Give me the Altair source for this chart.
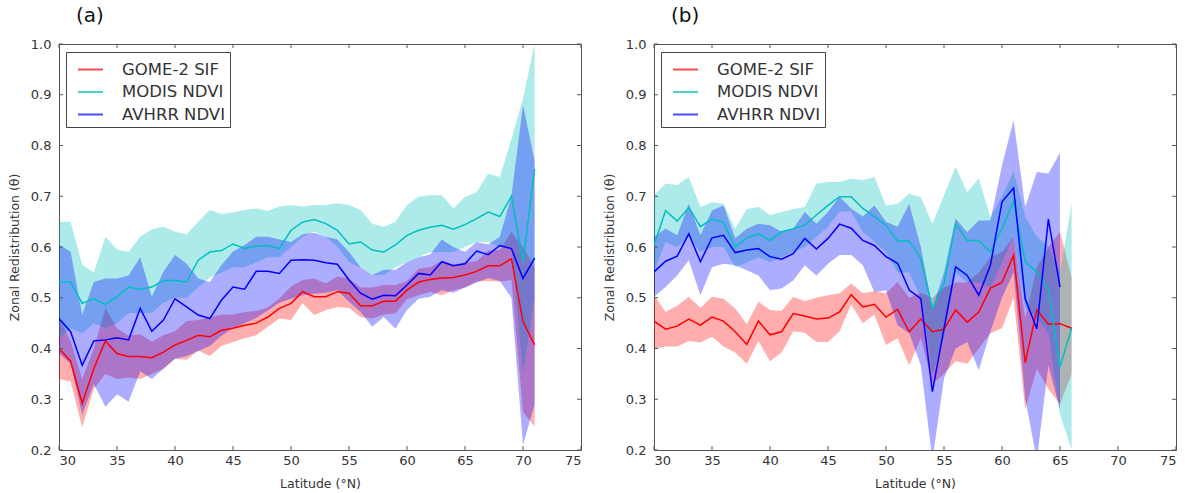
import altair as alt
import pandas as pd

SERIES = ["GOME-2 SIF", "MODIS NDVI", "AVHRR NDVI"]
COLORS = ["#ff0000", "#00bfbf", "#0000ff"]
X_TICKS = [30, 35, 40, 45, 50, 55, 60, 65, 70, 75]
Y_TICKS = [0.2, 0.3, 0.4, 0.5, 0.6, 0.7, 0.8, 0.9, 1.0]

# ---------------- panel (a): latitudes 30..71 ----------------
lat_a = list(range(30, 72))
sif_a = [0.400, 0.375, 0.292, 0.360, 0.415, 0.390, 0.384, 0.384, 0.382, 0.393,
         0.407, 0.416, 0.426, 0.423, 0.436, 0.440, 0.446, 0.450, 0.462, 0.479,
         0.489, 0.512, 0.502, 0.502, 0.512, 0.509, 0.484, 0.484, 0.493, 0.493,
         0.515, 0.531, 0.536, 0.539, 0.540, 0.545, 0.552, 0.563, 0.563, 0.577,
         0.453, 0.407]
sif_a_lo = [0.340, 0.335, 0.245, 0.320, 0.350, 0.340, 0.343, 0.340, 0.350, 0.360,
            0.380, 0.378, 0.396, 0.385, 0.405, 0.413, 0.420, 0.426, 0.443, 0.459,
            0.456, 0.489, 0.466, 0.476, 0.482, 0.480, 0.462, 0.459, 0.467, 0.469,
            0.497, 0.505, 0.512, 0.505, 0.515, 0.520, 0.532, 0.533, 0.532, 0.535,
            0.275, 0.247]
sif_a_hi = [0.460, 0.415, 0.340, 0.400, 0.480, 0.440, 0.425, 0.428, 0.414, 0.426,
            0.434, 0.454, 0.456, 0.461, 0.467, 0.467, 0.472, 0.474, 0.481, 0.499,
            0.522, 0.535, 0.538, 0.528, 0.542, 0.538, 0.520, 0.520, 0.525, 0.525,
            0.533, 0.557, 0.560, 0.573, 0.565, 0.570, 0.572, 0.593, 0.594, 0.630,
            0.600, 0.560]
modis_a = [0.531, 0.531, 0.489, 0.498, 0.487, 0.502, 0.521, 0.517, 0.521, 0.534,
           0.534, 0.531, 0.574, 0.590, 0.593, 0.606, 0.597, 0.602, 0.603, 0.597,
           0.633, 0.649, 0.654, 0.646, 0.633, 0.606, 0.610, 0.594, 0.590, 0.604,
           0.623, 0.633, 0.639, 0.643, 0.635, 0.644, 0.656, 0.669, 0.660, 0.700,
           0.571, 0.754]
modis_a_lo = [0.42, 0.44, 0.43, 0.45, 0.44, 0.45, 0.47, 0.47, 0.47, 0.49,
              0.50, 0.50, 0.52, 0.54, 0.55, 0.56, 0.56, 0.57, 0.58, 0.58,
              0.60, 0.62, 0.63, 0.62, 0.60, 0.57, 0.56, 0.545, 0.545, 0.56,
              0.57, 0.58, 0.59, 0.59, 0.59, 0.60, 0.61, 0.61, 0.60, 0.60,
              0.35, 0.50]
modis_a_hi = [0.650, 0.650, 0.565, 0.550, 0.620, 0.595, 0.590, 0.620, 0.635, 0.640,
              0.630, 0.625, 0.650, 0.673, 0.665, 0.668, 0.673, 0.676, 0.671, 0.680,
              0.683, 0.680, 0.683, 0.683, 0.686, 0.683, 0.673, 0.646, 0.640, 0.650,
              0.683, 0.699, 0.702, 0.702, 0.676, 0.699, 0.708, 0.745, 0.738, 0.813,
              0.892, 1.000]
avhrr_a = [0.459, 0.433, 0.367, 0.415, 0.417, 0.421, 0.417, 0.479, 0.434, 0.456,
           0.498, 0.482, 0.466, 0.459, 0.495, 0.521, 0.517, 0.552, 0.552, 0.548,
           0.574, 0.575, 0.574, 0.569, 0.566, 0.535, 0.509, 0.497, 0.505, 0.504,
           0.525, 0.548, 0.545, 0.571, 0.563, 0.567, 0.592, 0.585, 0.603, 0.597,
           0.538, 0.578]
avhrr_a_lo = [0.390, 0.370, 0.270, 0.330, 0.285, 0.310, 0.295, 0.355, 0.340, 0.360,
              0.380, 0.385, 0.395, 0.405, 0.425, 0.440, 0.450, 0.460, 0.475, 0.490,
              0.498, 0.505, 0.508, 0.510, 0.515, 0.492, 0.472, 0.443, 0.462, 0.439,
              0.476, 0.498, 0.502, 0.515, 0.510, 0.520, 0.530, 0.539, 0.533, 0.500,
              0.210, 0.290]
avhrr_a_hi = [0.604, 0.591, 0.466, 0.531, 0.538, 0.538, 0.544, 0.580, 0.502, 0.551,
              0.584, 0.567, 0.538, 0.531, 0.564, 0.591, 0.604, 0.620, 0.620, 0.615,
              0.610, 0.625, 0.628, 0.620, 0.615, 0.590, 0.560, 0.545, 0.555, 0.555,
              0.570, 0.580, 0.585, 0.615, 0.600, 0.590, 0.610, 0.605, 0.620, 0.700,
              0.880, 0.770]

# ---------------- panel (b): latitudes 30..66 (AVHRR to 65) ----------------
lat_b = list(range(30, 67))
lat_b_avhrr = list(range(30, 66))
sif_b = [0.454, 0.438, 0.444, 0.458, 0.446, 0.462, 0.454, 0.433, 0.408, 0.454,
         0.427, 0.433, 0.469, 0.464, 0.458, 0.460, 0.472, 0.506, 0.482, 0.487,
         0.462, 0.477, 0.433, 0.458, 0.433, 0.438, 0.476, 0.452, 0.472, 0.519,
         0.530, 0.584, 0.372, 0.476, 0.448, 0.449, 0.440]
sif_b_lo = [0.399, 0.404, 0.404, 0.415, 0.412, 0.423, 0.404, 0.392, 0.370, 0.415,
            0.375, 0.392, 0.434, 0.431, 0.413, 0.413, 0.434, 0.487, 0.450, 0.467,
            0.407, 0.420, 0.367, 0.420, 0.330, 0.350, 0.375, 0.370, 0.400, 0.430,
            0.440, 0.500, 0.280, 0.360, 0.320, 0.290, 0.350]
sif_b_hi = [0.505, 0.472, 0.484, 0.502, 0.480, 0.502, 0.498, 0.479, 0.448, 0.492,
            0.476, 0.474, 0.502, 0.493, 0.500, 0.505, 0.509, 0.528, 0.509, 0.513,
            0.509, 0.531, 0.500, 0.510, 0.500, 0.520, 0.530, 0.530, 0.550, 0.580,
            0.590, 0.620, 0.460, 0.560, 0.600, 0.630, 0.540]
modis_b = [0.604, 0.672, 0.651, 0.678, 0.640, 0.655, 0.648, 0.600, 0.618, 0.626,
           0.613, 0.630, 0.636, 0.643, 0.663, 0.682, 0.699, 0.699, 0.676, 0.660,
           0.643, 0.612, 0.612, 0.577, 0.479, 0.528, 0.646, 0.613, 0.613, 0.590,
           0.636, 0.690, 0.571, 0.551, 0.515, 0.364, 0.440]
modis_b_lo = [0.55, 0.61, 0.60, 0.62, 0.59, 0.60, 0.60, 0.56, 0.57, 0.58,
              0.57, 0.58, 0.59, 0.60, 0.62, 0.64, 0.67, 0.67, 0.63, 0.61,
              0.59, 0.55, 0.55, 0.50, 0.35, 0.42, 0.55, 0.53, 0.53, 0.52,
              0.57, 0.62, 0.48, 0.46, 0.43, 0.27, 0.20]
modis_b_hi = [0.702, 0.725, 0.722, 0.738, 0.679, 0.688, 0.685, 0.636, 0.675, 0.679,
              0.663, 0.669, 0.675, 0.679, 0.725, 0.728, 0.728, 0.735, 0.732, 0.738,
              0.682, 0.685, 0.705, 0.698, 0.646, 0.702, 0.758, 0.708, 0.735, 0.659,
              0.700, 0.750, 0.660, 0.620, 0.600, 0.550, 0.685]
avhrr_b = [0.551, 0.572, 0.582, 0.626, 0.571, 0.618, 0.623, 0.589, 0.594, 0.597,
           0.581, 0.576, 0.587, 0.617, 0.596, 0.617, 0.645, 0.637, 0.613, 0.603,
           0.581, 0.568, 0.515, 0.498, 0.315, 0.439, 0.561, 0.544, 0.505, 0.564,
           0.689, 0.716, 0.498, 0.439, 0.655, 0.521]
avhrr_b_lo = [0.502, 0.521, 0.544, 0.574, 0.505, 0.560, 0.567, 0.564, 0.554, 0.544,
              0.515, 0.518, 0.534, 0.564, 0.544, 0.567, 0.584, 0.584, 0.564, 0.511,
              0.515, 0.446, 0.430, 0.367, 0.180, 0.341, 0.400, 0.413, 0.357, 0.433,
              0.500, 0.550, 0.302, 0.180, 0.367, 0.280]
avhrr_b_hi = [0.620, 0.636, 0.623, 0.685, 0.623, 0.672, 0.682, 0.617, 0.636, 0.646,
              0.643, 0.630, 0.636, 0.669, 0.646, 0.669, 0.699, 0.676, 0.660, 0.682,
              0.650, 0.640, 0.685, 0.600, 0.480, 0.550, 0.656, 0.629, 0.652, 0.652,
              0.761, 0.850, 0.679, 0.748, 0.745, 0.785]

FONT = "DejaVu Sans"
W, H = 522, 406
TICK = 4


def build_frame(groups):
    rows = []
    for k, (name, lats, mean, lo, hi) in enumerate(groups):
        for i, la in enumerate(lats):
            rows.append({"lat": la, "series": name, "k": k, "mean": mean[i],
                         "lo": lo[i], "hi": hi[i]})
    return pd.DataFrame(rows)


def legend():
    return alt.Legend(
        title=None, orient="none", legendX=7, legendY=8,
        direction="vertical", symbolType="stroke", symbolSize=625,
        symbolStrokeWidth=2, symbolOpacity=0.7, labelFontSize=16.5,
        labelFont=FONT, labelColor="#333", padding=4,
        symbolOffset=7, labelOffset=18, rowPadding=0.5,
        strokeColor="#444", fillColor="white", cornerRadius=0,
    )


def panel(df, label):
    xs = alt.Scale(domain=[30, 75], nice=False, zero=False)
    ys = alt.Scale(domain=[0.2, 1.0], nice=False, zero=False)
    cs = alt.Scale(domain=SERIES, range=COLORS)
    xaxis = alt.Axis(values=X_TICKS, title="Latitude (°N)", format="d",
                     labelPadding=4, titlePadding=10)
    yaxis = alt.Axis(values=Y_TICKS, title="Zonal Redistribution (θ)",
                     format=".1f", labelPadding=8, titlePadding=9)

    layers = []
    for k, name in enumerate(SERIES):
        sub = df[df["series"] == name]
        layers.append(
            alt.Chart(sub).mark_area(opacity=0.32, clip=True, color=COLORS[k]).encode(
                x=alt.X("lat:Q", scale=xs, axis=xaxis),
                y=alt.Y("lo:Q", scale=ys, axis=yaxis),
                y2="hi:Q",
            )
        )
    line = alt.Chart(df).mark_line(strokeWidth=1.5, clip=True).encode(
        x=alt.X("lat:Q", scale=xs),
        y=alt.Y("mean:Q", scale=ys),
        color=alt.Color("series:N", scale=cs, legend=legend()),
    )
    layers.append(line)

    xt = pd.DataFrame({"t": X_TICKS})
    yt = pd.DataFrame({"t": Y_TICKS})
    tick_style = dict(color="#555", strokeWidth=1)
    layers += [
        alt.Chart(xt).mark_rule(**tick_style).encode(
            x=alt.X("t:Q", scale=xs), y=alt.value(0), y2=alt.value(TICK)),
        alt.Chart(xt).mark_rule(**tick_style).encode(
            x=alt.X("t:Q", scale=xs), y=alt.value(H), y2=alt.value(H - TICK)),
        alt.Chart(yt).mark_rule(**tick_style).encode(
            y=alt.Y("t:Q", scale=ys), x=alt.value(0), x2=alt.value(TICK)),
        alt.Chart(yt).mark_rule(**tick_style).encode(
            y=alt.Y("t:Q", scale=ys), x=alt.value(W), x2=alt.value(W - TICK)),
    ]

    return alt.layer(*layers).properties(
        width=W, height=H,
        title=alt.TitleParams(label, anchor="start", frame="group", dx=17,
                              offset=12, fontSize=20, font=FONT,
                              fontWeight="normal", color="#111"),
    )


df_a = build_frame([
    ("GOME-2 SIF", lat_a, sif_a, sif_a_lo, sif_a_hi),
    ("MODIS NDVI", lat_a, modis_a, modis_a_lo, modis_a_hi),
    ("AVHRR NDVI", lat_a, avhrr_a, avhrr_a_lo, avhrr_a_hi),
])
df_b = build_frame([
    ("GOME-2 SIF", lat_b, sif_b, sif_b_lo, sif_b_hi),
    ("MODIS NDVI", lat_b, modis_b, modis_b_lo, modis_b_hi),
    ("AVHRR NDVI", lat_b_avhrr, avhrr_b, avhrr_b_lo, avhrr_b_hi),
])

chart = alt.hconcat(panel(df_a, "(a)"), panel(df_b, "(b)"), spacing=20).resolve_scale(
    color="independent"
).resolve_legend(
    color="independent"
).properties(
    padding={"left": 7, "top": 5, "right": 5, "bottom": 3},
    background="white",
).configure_view(
    stroke="#555", strokeWidth=1
).configure_axis(
    domain=False, ticks=False, grid=False,
    labelFont=FONT, labelFontSize=13, labelColor="#333",
    titleFont=FONT, titleFontSize=12.5, titleColor="#333", titleFontWeight="normal",
)

chart.save("out.html", embed_options={"renderer": "svg", "actions": False})
